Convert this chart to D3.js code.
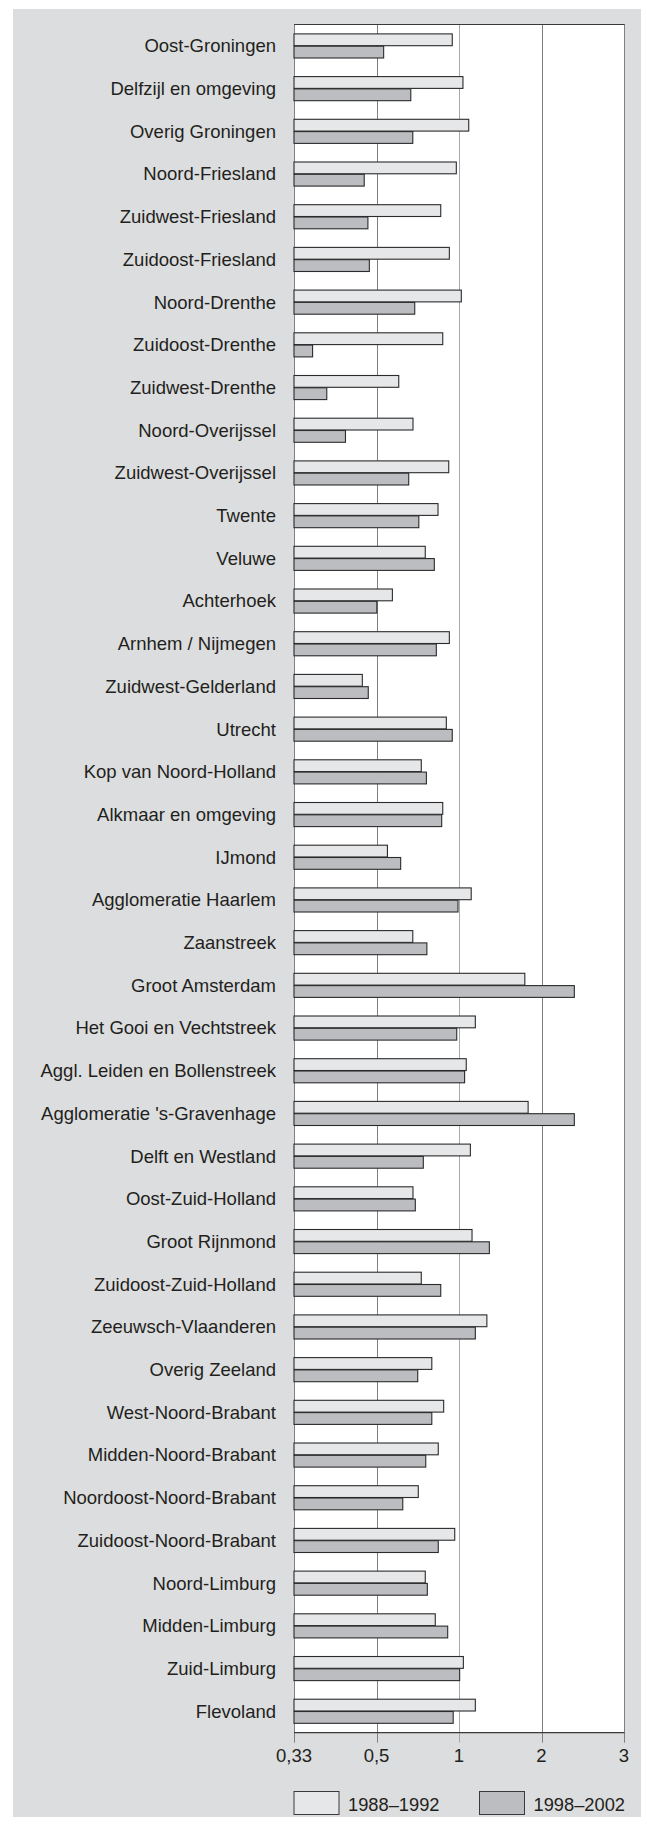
<!DOCTYPE html>
<html>
<head>
<meta charset="utf-8">
<script src="https://cdn.jsdelivr.net/npm/d3@7"></script>
<style>
  html, body { margin: 0; padding: 0; background: #ffffff; }
  svg { display: block; }
  text { font-family: "Liberation Sans", Arial, Helvetica, sans-serif; fill: #231f20; }
</style>
</head>
<body>
<svg id="chart" width="647" height="1825"></svg>
<script>
const categories = [
  "Oost-Groningen", "Delfzijl en omgeving", "Overig Groningen", "Noord-Friesland",
  "Zuidwest-Friesland", "Zuidoost-Friesland", "Noord-Drenthe", "Zuidoost-Drenthe",
  "Zuidwest-Drenthe", "Noord-Overijssel", "Zuidwest-Overijssel", "Twente", "Veluwe",
  "Achterhoek", "Arnhem / Nijmegen", "Zuidwest-Gelderland", "Utrecht",
  "Kop van Noord-Holland", "Alkmaar en omgeving", "IJmond", "Agglomeratie Haarlem",
  "Zaanstreek", "Groot Amsterdam", "Het Gooi en Vechtstreek", "Aggl. Leiden en Bollenstreek",
  "Agglomeratie 's-Gravenhage", "Delft en Westland", "Oost-Zuid-Holland", "Groot Rijnmond",
  "Zuidoost-Zuid-Holland", "Zeeuwsch-Vlaanderen", "Overig Zeeland", "West-Noord-Brabant",
  "Midden-Noord-Brabant", "Noordoost-Noord-Brabant", "Zuidoost-Noord-Brabant",
  "Noord-Limburg", "Midden-Limburg", "Zuid-Limburg", "Flevoland"
];
const series = ["1988–1992", "1998–2002"];
const values1988 = [
  0.935, 1.06, 1.13, 0.98, 0.827, 0.905, 1.04, 0.844, 0.582, 0.647,
  0.899, 0.805, 0.716, 0.557, 0.905, 0.463, 0.876, 0.692, 0.844, 0.539,
  1.16, 0.646, 1.81, 1.21, 1.10, 1.85, 1.15, 0.647, 1.17, 0.692,
  1.35, 0.759, 0.852, 0.807, 0.675, 0.962, 0.716, 0.784, 1.065, 1.21
];
const values1998 = [
  0.526, 0.636, 0.646, 0.468, 0.478, 0.482, 0.656, 0.362, 0.386, 0.423,
  0.626, 0.678, 0.777, 0.504, 0.792, 0.479, 0.935, 0.723, 0.835, 0.590,
  1.00, 0.726, 2.41, 0.985, 1.08, 2.41, 0.704, 0.659, 1.38, 0.827,
  1.21, 0.672, 0.759, 0.719, 0.599, 0.807, 0.729, 0.889, 1.02, 0.945
];
const tickValues = [1/3, 0.5, 1, 2, 3];
const tickLabels = ["0,33", "0,5", "1", "2", "3"];

const data = categories.map((c, i) => ({ cat: c, vals: [values1988[i], values1998[i]] }));

const svg = d3.select("#chart");
const fills = ["#e6e7e8", "#bcbdc0"];
const edge = "#2b2b2b";

// background
svg.append("rect").attr("x", 13).attr("y", 9).attr("width", 628).attr("height", 1808).attr("fill", "#dcddde");

const plot = { left: 294, right: 624, top: 24, bottom: 1732.7 };

// symmetric ratio transform: 1/3 -> -2, 1/2 -> -1, 1 -> 0, 2 -> 1, 3 -> 2
const tr = v => v >= 1 ? v - 1 : 1 - 1 / v;
const xLin = d3.scaleLinear().domain([-2, 2]).range([plot.left, plot.right]);
const x = v => xLin(tr(v));

const y = d3.scaleBand().domain(categories).range([plot.top, plot.bottom])
  .paddingInner(0.424).paddingOuter(0.22).align(0.5);
const ySub = d3.scaleBand().domain(series).range([0, y.bandwidth()]);

// plot area
svg.append("rect").attr("x", plot.left).attr("y", plot.top)
  .attr("width", plot.right - plot.left).attr("height", plot.bottom - plot.top)
  .attr("fill", "#ffffff");

// gridlines + ticks
const grid = svg.append("g");
grid.selectAll("line").data(tickValues).join("line")
  .attr("x1", d => Math.round(x(d)) + 0.5).attr("x2", d => Math.round(x(d)) + 0.5)
  .attr("y1", plot.top).attr("y2", plot.bottom + 10)
  .attr("stroke", (d, i) => i === 2 ? "#a7a8aa" : "#808083").attr("stroke-width", 1);

// top and bottom frame lines
svg.append("line").attr("x1", plot.left).attr("x2", plot.right + 0.5)
  .attr("y1", plot.top + 0.5).attr("y2", plot.top + 0.5).attr("stroke", "#3a3a3a").attr("stroke-width", 1.2);
svg.append("line").attr("x1", plot.left).attr("x2", plot.right + 0.5)
  .attr("y1", plot.bottom).attr("y2", plot.bottom).attr("stroke", "#3a3a3a").attr("stroke-width", 1.2);

// tick labels
svg.append("g").selectAll("text").data(tickValues).join("text")
  .attr("x", d => x(d)).attr("y", 1761.5)
  .attr("text-anchor", "middle").attr("font-size", 18.5)
  .text((d, i) => tickLabels[i]);

// bars
const groups = svg.append("g").selectAll("g").data(data).join("g")
  .attr("transform", d => `translate(0,${y(d.cat)})`);
groups.selectAll("rect").data(d => d.vals.map((v, i) => ({ v, s: series[i], i }))).join("rect")
  .attr("x", plot.left)
  .attr("y", d => ySub(d.s) + 0.5)
  .attr("width", d => x(d.v) - plot.left - 1)
  .attr("height", ySub.bandwidth() - 0.5)
  .attr("fill", d => fills[d.i])
  .attr("stroke", edge).attr("stroke-width", 1.1);

// category labels
svg.append("g").selectAll("text").data(categories).join("text")
  .attr("x", 276).attr("y", d => y(d) + y.bandwidth() / 2)
  .attr("dy", "0.36em").attr("text-anchor", "end").attr("font-size", 18.5)
  .text(d => d);

// legend
const legendX = [293.5, 479];
const lg = svg.append("g").selectAll("g").data(series).join("g")
  .attr("transform", (d, i) => `translate(${legendX[i]},1791)`);
lg.append("rect").attr("x", 0.5).attr("y", 0.5).attr("width", 45).attr("height", 23)
  .attr("fill", (d, i) => fills[i]).attr("stroke", "#3a3a3a").attr("stroke-width", 1);
lg.append("text").attr("x", 54.5).attr("y", 19.5).attr("font-size", 18.3).text(d => d);
</script>
</body>
</html>
